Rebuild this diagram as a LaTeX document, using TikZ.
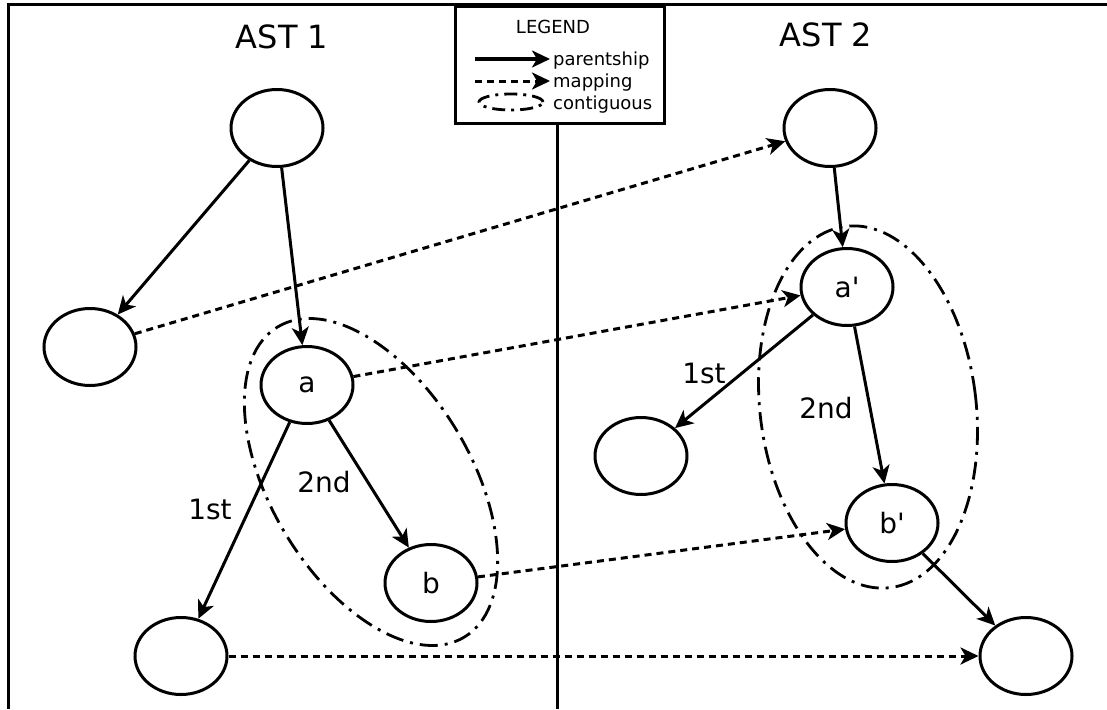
\documentclass[tikz,border=0pt]{standalone}
\usepackage{fontspec}
\setmainfont{DejaVu Sans}
\usetikzlibrary{arrows.meta,shapes.geometric}
\begin{document}
\begin{tikzpicture}[x=1pt,y=-1pt,
 tnode/.style={ellipse,draw,line width=3pt,fill=white,minimum width=92pt,minimum height=77pt,inner sep=0pt,font=\fontsize{28}{32}\selectfont},
 parent/.style={line width=3pt,-{Stealth[length=18pt,width=17pt,inset=5pt]}},
 mapping/.style={parent,dash pattern=on 7pt off 5pt},
 contig/.style={ellipse,draw,line width=2.8pt,dash pattern=on 18pt off 7pt on 3pt off 7pt,inner sep=0pt},
 lbl/.style={font=\fontsize{28}{32}\selectfont},
 ttl/.style={font=\fontsize{32}{36}\selectfont},
 legtxt/.style={anchor=base west,inner sep=0pt,font=\fontsize{18}{21}\selectfont},
 frame/.style={line width=3pt}]
\useasboundingbox (0,0) rectangle (1107,709);
% frame
\coordinate (fbl) at (8,709);
\coordinate (ftl) at (8,5);
\coordinate (ftr) at (1107,5);
\draw[frame] (fbl) -- (ftl) -- (ftr);
\node[draw,line width=3pt,fill=white,minimum width=209pt,minimum height=117pt,anchor=north west,inner sep=0pt] (legend) at (454,5) {};
\coordinate (divbot) at (557,709);
\draw[frame] (legend.south -| divbot) -- (divbot);
% legend content
\node[font=\fontsize{18}{21}\selectfont] (legtitle) at (553,27) {LEGEND};
\coordinate (lp1) at (475,59); \coordinate (lp2) at (550,59);
\draw[parent] (lp1) -- (lp2);
\node[legtxt] (ltp) at (553,65) {parentship};
\coordinate (lm1) at (475,81); \coordinate (lm2) at (550,81);
\draw[mapping] (lm1) -- (lm2);
\node[legtxt] (ltm) at (553,87) {mapping};
\node[contig,line width=2.8pt,dash pattern=on 13pt off 6pt on 3pt off 6pt,minimum width=64pt,minimum height=16pt] (lce) at (511,102) {};
\node[legtxt] (ltc) at (553,109) {contiguous};
% titles
\node[ttl] (t1) at (282,37) {AST 1};
\node[ttl] (t2) at (826,35) {AST 2};
% contiguous ellipses
\node[contig,minimum width=200pt,minimum height=362pt,rotate=31] (c1) at (371,482) {};
\node[contig,minimum width=216pt,minimum height=364pt,rotate=7] (c2) at (868,407) {};
% tree nodes
\node[tnode] (r1) at (277,128) {};
\node[tnode] (l1) at (90,347) {};
\node[tnode] (a) at (307,385) {a};
\node[tnode] (b) at (431,583) {b};
\node[tnode] (lb) at (181,656) {};
\node[tnode] (r2) at (830,128) {};
\node[tnode] (ap) at (847,287) {a\textquotesingle};
\node[tnode] (d) at (641,456) {};
\node[tnode] (bp) at (892,523) {b\textquotesingle};
\node[tnode] (e) at (1026,656) {};
% parentship
\draw[parent] (r1) -- (l1);
\draw[parent] (r1) -- (a);
\draw[parent] (a) -- (lb);
\draw[parent] (a) -- (b);
\draw[parent] (r2) -- (ap);
\draw[parent] (ap) -- (d);
\draw[parent] (ap) -- (bp);
\draw[parent] (bp) -- (e);
% mapping
\draw[mapping] (l1) -- (r2);
\draw[mapping] (a) -- (ap);
\draw[mapping] (b) -- (bp);
\draw[mapping] (lb) -- (e);
% labels
\node[lbl] (l1st) at (210,509) {1st};
\node[lbl] (l2nd) at (324,482) {2nd};
\node[lbl] (r1st) at (704,373) {1st};
\node[lbl] (r2nd) at (826,408) {2nd};
\end{tikzpicture}
\end{document}
